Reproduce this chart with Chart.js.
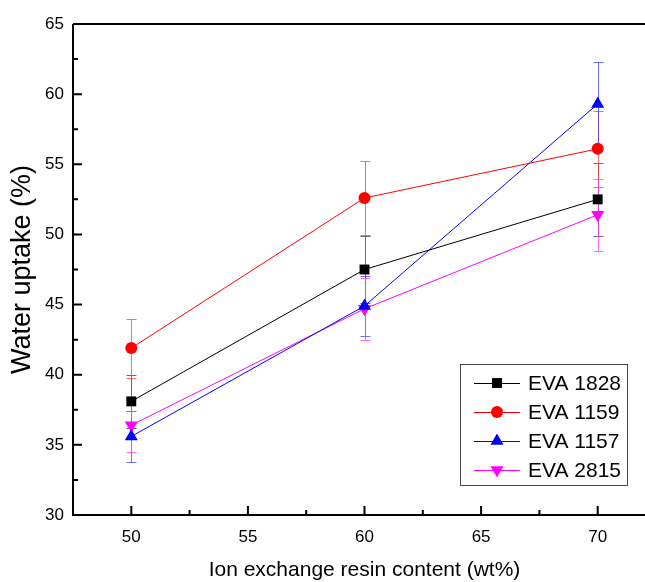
<!DOCTYPE html>
<html>
<head>
<meta charset="utf-8">
<script src="https://cdn.jsdelivr.net/npm/chart.js@4/dist/chart.umd.min.js"></script>
<style>
html, body { margin:0; padding:0; background:#fff; overflow:hidden; }
#wrap { width:700px; height:600px; }
</style>
</head>
<body>
<div id="wrap"><canvas id="uptakeChart" width="700" height="600"></canvas></div>
<script>
// resin content (wt%) on x, water uptake (%) on y
const resinContent = [50, 60, 70];
const seriesNames = ['EVA 1828', 'EVA 1159', 'EVA 1157', 'EVA 2815'];
const eva1828 = [38.1, 47.5, 52.5];
const eva1159 = [41.9, 52.6, 56.1];
const eva1157 = [35.6, 44.9, 59.3];
const eva2815 = [36.4, 44.7, 51.4];
const err1828 = [1.9, 2.4, 2.6];
const err1159 = [2.1, 2.65, 2.7];
const err1157 = [1.8, 2.15, 3.0];
const err2815 = [1.9, 2.2, 2.55];

const xMajorTicks = [50, 55, 60, 65, 70];
const xMinorTicks = [52.5, 57.5, 62.5, 67.5];
const yMajorTicks = [30, 35, 40, 45, 50, 55, 60, 65];
const yMinorTicks = [32.5, 37.5, 42.5, 47.5, 52.5, 57.5, 62.5];

const FONT = "'Liberation Sans', Arial, sans-serif";

function series(label, ys, errs, color, errColor, style, radius, rotation){
  return {
    label: label,
    data: resinContent.map((x, i) => ({ x: x, y: ys[i] })),
    err: errs,
    errColor: errColor,
    showLine: true,
    borderColor: color,
    borderWidth: 1,
    backgroundColor: color,
    pointBackgroundColor: color,
    pointBorderColor: color,
    pointBorderWidth: 0,
    pointStyle: style,
    pointRadius: radius,
    pointRotation: rotation || 0,
    tension: 0
  };
}

const extras = {
  id: 'extras',
  beforeDatasetsDraw(chart){
    const ctx = chart.ctx, xs = chart.scales.x, ys = chart.scales.y;
    chart.data.datasets.forEach(ds => {
      ctx.save();
      ctx.strokeStyle = ds.errColor;
      ctx.lineWidth = 1;
      ds.data.forEach((p, i) => {
        const x = Math.round(xs.getPixelForValue(p.x)) + 0.5;
        const yt = Math.round(ys.getPixelForValue(p.y + ds.err[i])) + 0.5;
        const yb = Math.round(ys.getPixelForValue(p.y - ds.err[i])) + 0.5;
        ctx.beginPath();
        ctx.moveTo(x, yt); ctx.lineTo(x, yb);
        ctx.moveTo(x - 5, yt); ctx.lineTo(x + 5, yt);
        ctx.moveTo(x - 5, yb); ctx.lineTo(x + 5, yb);
        ctx.stroke();
      });
      ctx.restore();
    });
  },
  afterDatasetsDraw(chart){
    const ctx = chart.ctx, xs = chart.scales.x, ys = chart.scales.y;
    const a = chart.chartArea;
    ctx.save();
    ctx.strokeStyle = '#000';
    ctx.lineWidth = 2;
    ctx.beginPath();
    ctx.moveTo(a.left, a.top); ctx.lineTo(a.left, a.bottom); ctx.lineTo(a.right + 2, a.bottom);
    ctx.moveTo(a.left, a.top); ctx.lineTo(a.right + 2, a.top);
    ctx.stroke();
    ctx.beginPath();
    yMajorTicks.forEach(v => { const y = ys.getPixelForValue(v); ctx.moveTo(a.left, y); ctx.lineTo(a.left + 9, y); });
    yMinorTicks.forEach(v => { const y = ys.getPixelForValue(v); ctx.moveTo(a.left, y); ctx.lineTo(a.left + 5, y); });
    xMajorTicks.forEach(v => { const x = xs.getPixelForValue(v); ctx.moveTo(x, a.bottom); ctx.lineTo(x, a.bottom - 9); });
    xMinorTicks.forEach(v => { const x = xs.getPixelForValue(v); ctx.moveTo(x, a.bottom); ctx.lineTo(x, a.bottom - 5); });
    ctx.stroke();

    // legend box
    const bx = 460.5, by = 364.5, bw = 167, bh = 121;
    ctx.lineWidth = 1;
    ctx.strokeStyle = '#444';
    ctx.strokeRect(bx, by, bw, bh);
    ctx.font = '21px ' + FONT;
    ctx.textBaseline = 'middle';
    ctx.textAlign = 'left';
    chart.data.datasets.forEach((ds, i) => {
      const y = 383 + i * 29;
      ctx.strokeStyle = ds.borderColor;
      ctx.beginPath();
      ctx.moveTo(474, y + 0.5); ctx.lineTo(520, y + 0.5);
      ctx.stroke();
      ctx.fillStyle = ds.borderColor;
      Chart.helpers.drawPoint(ctx, { pointStyle: ds.pointStyle, radius: ds.pointRadius, rotation: ds.pointRotation, borderWidth: 0 }, 497, y);
      ctx.fillStyle = '#000';
      ctx.fillText(ds.label, 528, y + 1);
    });
    ctx.restore();
  }
};

new Chart(document.getElementById('uptakeChart'), {
  type: 'scatter',
  data: {
    datasets: [
      series(seriesNames[0], eva1828, err1828, '#000000', 'rgba(60,60,60,0.75)', 'rect', 7),
      series(seriesNames[1], eva1159, err1159, '#ff0000', 'rgba(255,60,60,0.75)', 'circle', 6),
      series(seriesNames[2], eva1157, err1157, '#0000ff', 'rgba(60,60,255,0.75)', 'triangle', 7.5),
      series(seriesNames[3], eva2815, err2815, '#ff00ff', 'rgba(255,60,255,0.75)', 'triangle', 7.5, 180)
    ]
  },
  options: {
    responsive: false,
    animation: false,
    layout: { padding: { top: 24, right: 44, left: 0, bottom: 0 } },
    plugins: { legend: { display: false }, tooltip: { enabled: false } },
    scales: {
      x: {
        type: 'linear', min: 47.5, max: 72.5,
        afterBuildTicks: s => { s.ticks = xMajorTicks.map(v => ({ value: v })); },
        afterFit: s => { s.height = 85; },
        grid: { display: false, drawTicks: false },
        border: { display: false },
        ticks: { color: '#000', font: { family: FONT, size: 17 }, padding: 12, maxRotation: 0 },
        title: { display: true, text: 'Ion exchange resin content (wt%)', color: '#000',
                 font: { family: FONT, size: 21 }, padding: { top: 0, bottom: 17 } }
      },
      y: {
        min: 30, max: 65,
        afterBuildTicks: s => { s.ticks = yMajorTicks.map(v => ({ value: v })); },
        afterFit: s => { s.width = 73; },
        grid: { display: false, drawTicks: false },
        border: { display: false },
        ticks: { color: '#000', font: { family: FONT, size: 17 }, padding: 9 },
        title: { display: true, text: 'Water uptake (%)', color: '#000',
                 font: { family: FONT, size: 27 }, padding: { top: 6, bottom: 0 } }
      }
    }
  },
  plugins: [extras]
});
</script>
</body>
</html>
